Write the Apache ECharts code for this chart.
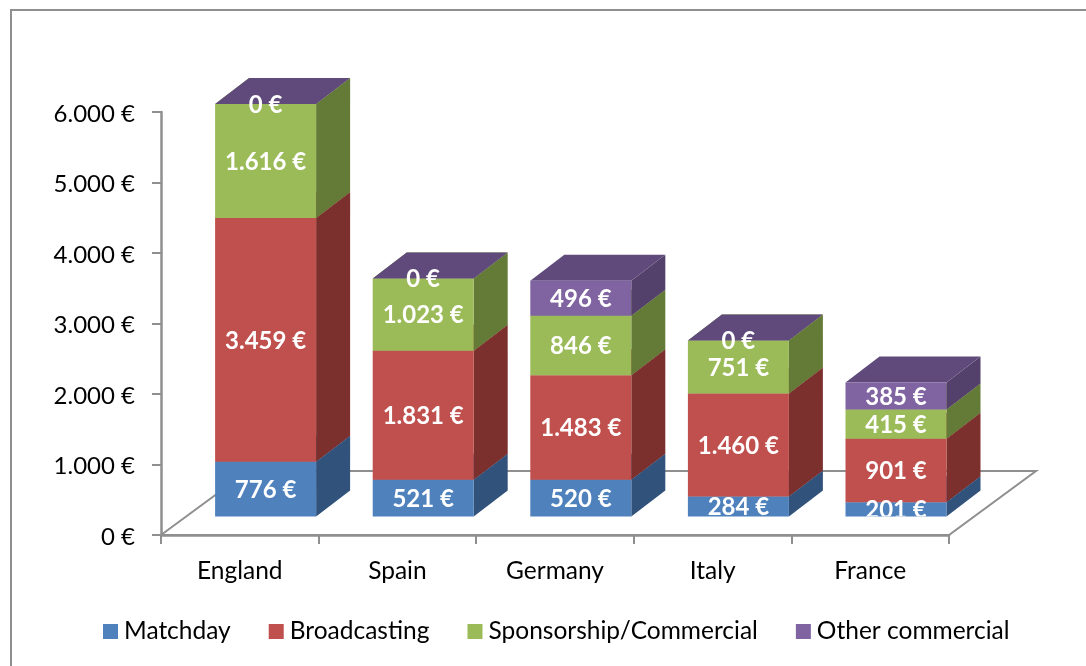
<!DOCTYPE html>
<html>
<head>
<meta charset="utf-8">
<style>
  html, body { margin: 0; padding: 0; background: #fff; }
  #chart { width: 1086px; height: 666px; }
</style>
<script src="https://cdn.jsdelivr.net/npm/echarts@6/dist/echarts.min.js"></script>
</head>
<body>
<div id="chart"></div>
<script>
const countries = ['England', 'Spain', 'Germany', 'Italy', 'France'];
const matchday = [776, 521, 520, 284, 201];
const broadcasting = [3459, 1831, 1483, 1460, 901];
const sponsorship = [1616, 1023, 846, 751, 415];
const otherCommercial = [0, 0, 496, 0, 385];
const yTicks = [0, 1000, 2000, 3000, 4000, 5000, 6000];

const fontName = 'Lato';
const axisGrey = '#8f8f8f';

// pseudo 3d box: how far the floor and bars are pushed back, in px
const floorDepth = [87, -64];
const barShift = [25.8, -18.5];
const barDepth = [34, -26];
const barWidth = 101;

function euro(value) {
  return value.toString().replace(/\B(?=(\d{3})+(?!\d))/g, '.') + ' €';
}

function boxSeries(name, values, front, side, top) {
  let base = values.map((v, i) => {
    return stackOrder.slice(0, stackOrder.indexOf(values)).reduce((sum, s) => sum + s[i], 0);
  });
  return {
    name: name,
    type: 'custom',
    coordinateSystem: 'cartesian2d',
    clip: false,
    itemStyle: { color: front },
    encode: { x: 0, y: 2 },
    data: values.map((v, i) => [i, base[i], base[i] + v]),
    renderItem: function (params, api) {
      let low = api.coord([api.value(0), api.value(1)]);
      let high = api.coord([api.value(0), api.value(2)]);
      let x0 = low[0] + barShift[0] - barWidth / 2;
      let x1 = x0 + barWidth;
      let y0 = low[1] + barShift[1];
      let y1 = high[1] + barShift[1];
      let dx = barDepth[0];
      let dy = barDepth[1];
      let floorY = api.coord([0, 0])[1] + barShift[1];
      return {
        type: 'group',
        children: [
          {
            type: 'polygon',
            shape: { points: [[x1, y0], [x1 + dx, y0 + dy], [x1 + dx, y1 + dy], [x1, y1]] },
            style: { fill: side }
          },
          {
            type: 'polygon',
            shape: { points: [[x0, y1], [x0 + dx, y1 + dy], [x1 + dx, y1 + dy], [x1, y1]] },
            style: { fill: top }
          },
          {
            type: 'rect',
            shape: { x: x0, y: y1, width: barWidth, height: y0 - y1 },
            style: { fill: front }
          },
          {
            type: 'group',
            z2: 100,
            // the labels get cut off at the foot of the bar
            clipPath: { type: 'rect', shape: { x: x0, y: 0, width: barWidth, height: floorY } },
            children: [{
              type: 'text',
              z2: 100,
              style: {
                x: (x0 + x1) / 2,
                y: (y0 + y1) / 2 + 1,
                text: euro(values[params.dataIndex]),
                fill: '#fff',
                font: 'bold 24px ' + fontName,
                align: 'center',
                verticalAlign: 'middle'
              }
            }]
          }
        ]
      };
    }
  };
}

const stackOrder = [matchday, broadcasting, sponsorship, otherCommercial];

const chart = echarts.init(document.getElementById('chart'));

chart.setOption({
  animation: false,
  textStyle: { fontFamily: fontName },
  graphic: [{
    type: 'rect',
    silent: true,
    shape: { x: 11, y: 10, width: 1100, height: 700 },
    style: { fill: 'none', stroke: axisGrey, lineWidth: 2 }
  }],
  legend: {
    left: 98,
    top: 614,
    icon: 'rect',
    itemWidth: 15,
    itemHeight: 15,
    itemGap: 38,
    textStyle: { fontFamily: fontName, fontSize: 24.5, color: '#000', padding: [0, 0, 0, 1] },
    data: ['Matchday', 'Broadcasting', 'Sponsorship/Commercial', 'Other commercial']
  },
  grid: { left: 161, top: 112, width: 788, height: 423 },
  xAxis: {
    type: 'category',
    data: countries,
    axisLine: { lineStyle: { color: axisGrey, width: 2.5 } },
    axisTick: { show: true, length: 9, alignWithLabel: false, lineStyle: { color: axisGrey, width: 2 } },
    axisLabel: { color: '#000', fontSize: 24.5, margin: 24 }
  },
  yAxis: {
    type: 'value',
    min: 0,
    max: 6000,
    interval: 1000,
    splitLine: { show: false },
    axisLine: { show: true, lineStyle: { color: axisGrey, width: 2.5 } },
    axisTick: { show: true, length: 9, lineStyle: { color: axisGrey, width: 2 } },
    axisLabel: {
      margin: 26,
      rich: {
        tick: { color: '#000', fontSize: 24, fontFamily: fontName, padding: [4, 0, 0, 0] }
      },
      formatter: function (value) {
        return yTicks.indexOf(value) >= 0 ? '{tick|' + euro(value) + '}' : '';
      }
    }
  },
  series: [
    {
      type: 'custom',
      coordinateSystem: 'cartesian2d',
      silent: true,
      encode: { x: 0, y: 1 },
      data: [[0, 0]],
      z: 1,
      renderItem: function (params, api) {
        let cs = params.coordSys;
        let floorY = api.coord([0, 0])[1];
        let xl = cs.x;
        let xr = cs.x + cs.width;
        return {
          type: 'polygon',
          shape: {
            points: [
              [xl, floorY],
              [xl + floorDepth[0], floorY + floorDepth[1]],
              [xr + floorDepth[0], floorY + floorDepth[1]],
              [xr, floorY]
            ]
          },
          style: { fill: 'none', stroke: axisGrey, lineWidth: 2 }
        };
      }
    },
    boxSeries('Matchday', matchday, '#4f81bd', '#31527a', '#3f6797'),
    boxSeries('Broadcasting', broadcasting, '#c0504d', '#7b302e', '#99403d'),
    boxSeries('Sponsorship/Commercial', sponsorship, '#9bbb59', '#647a37', '#7c9647'),
    boxSeries('Other commercial', otherCommercial, '#8064a2', '#54416b', '#604a7b')
  ]
});
</script>
</body>
</html>
